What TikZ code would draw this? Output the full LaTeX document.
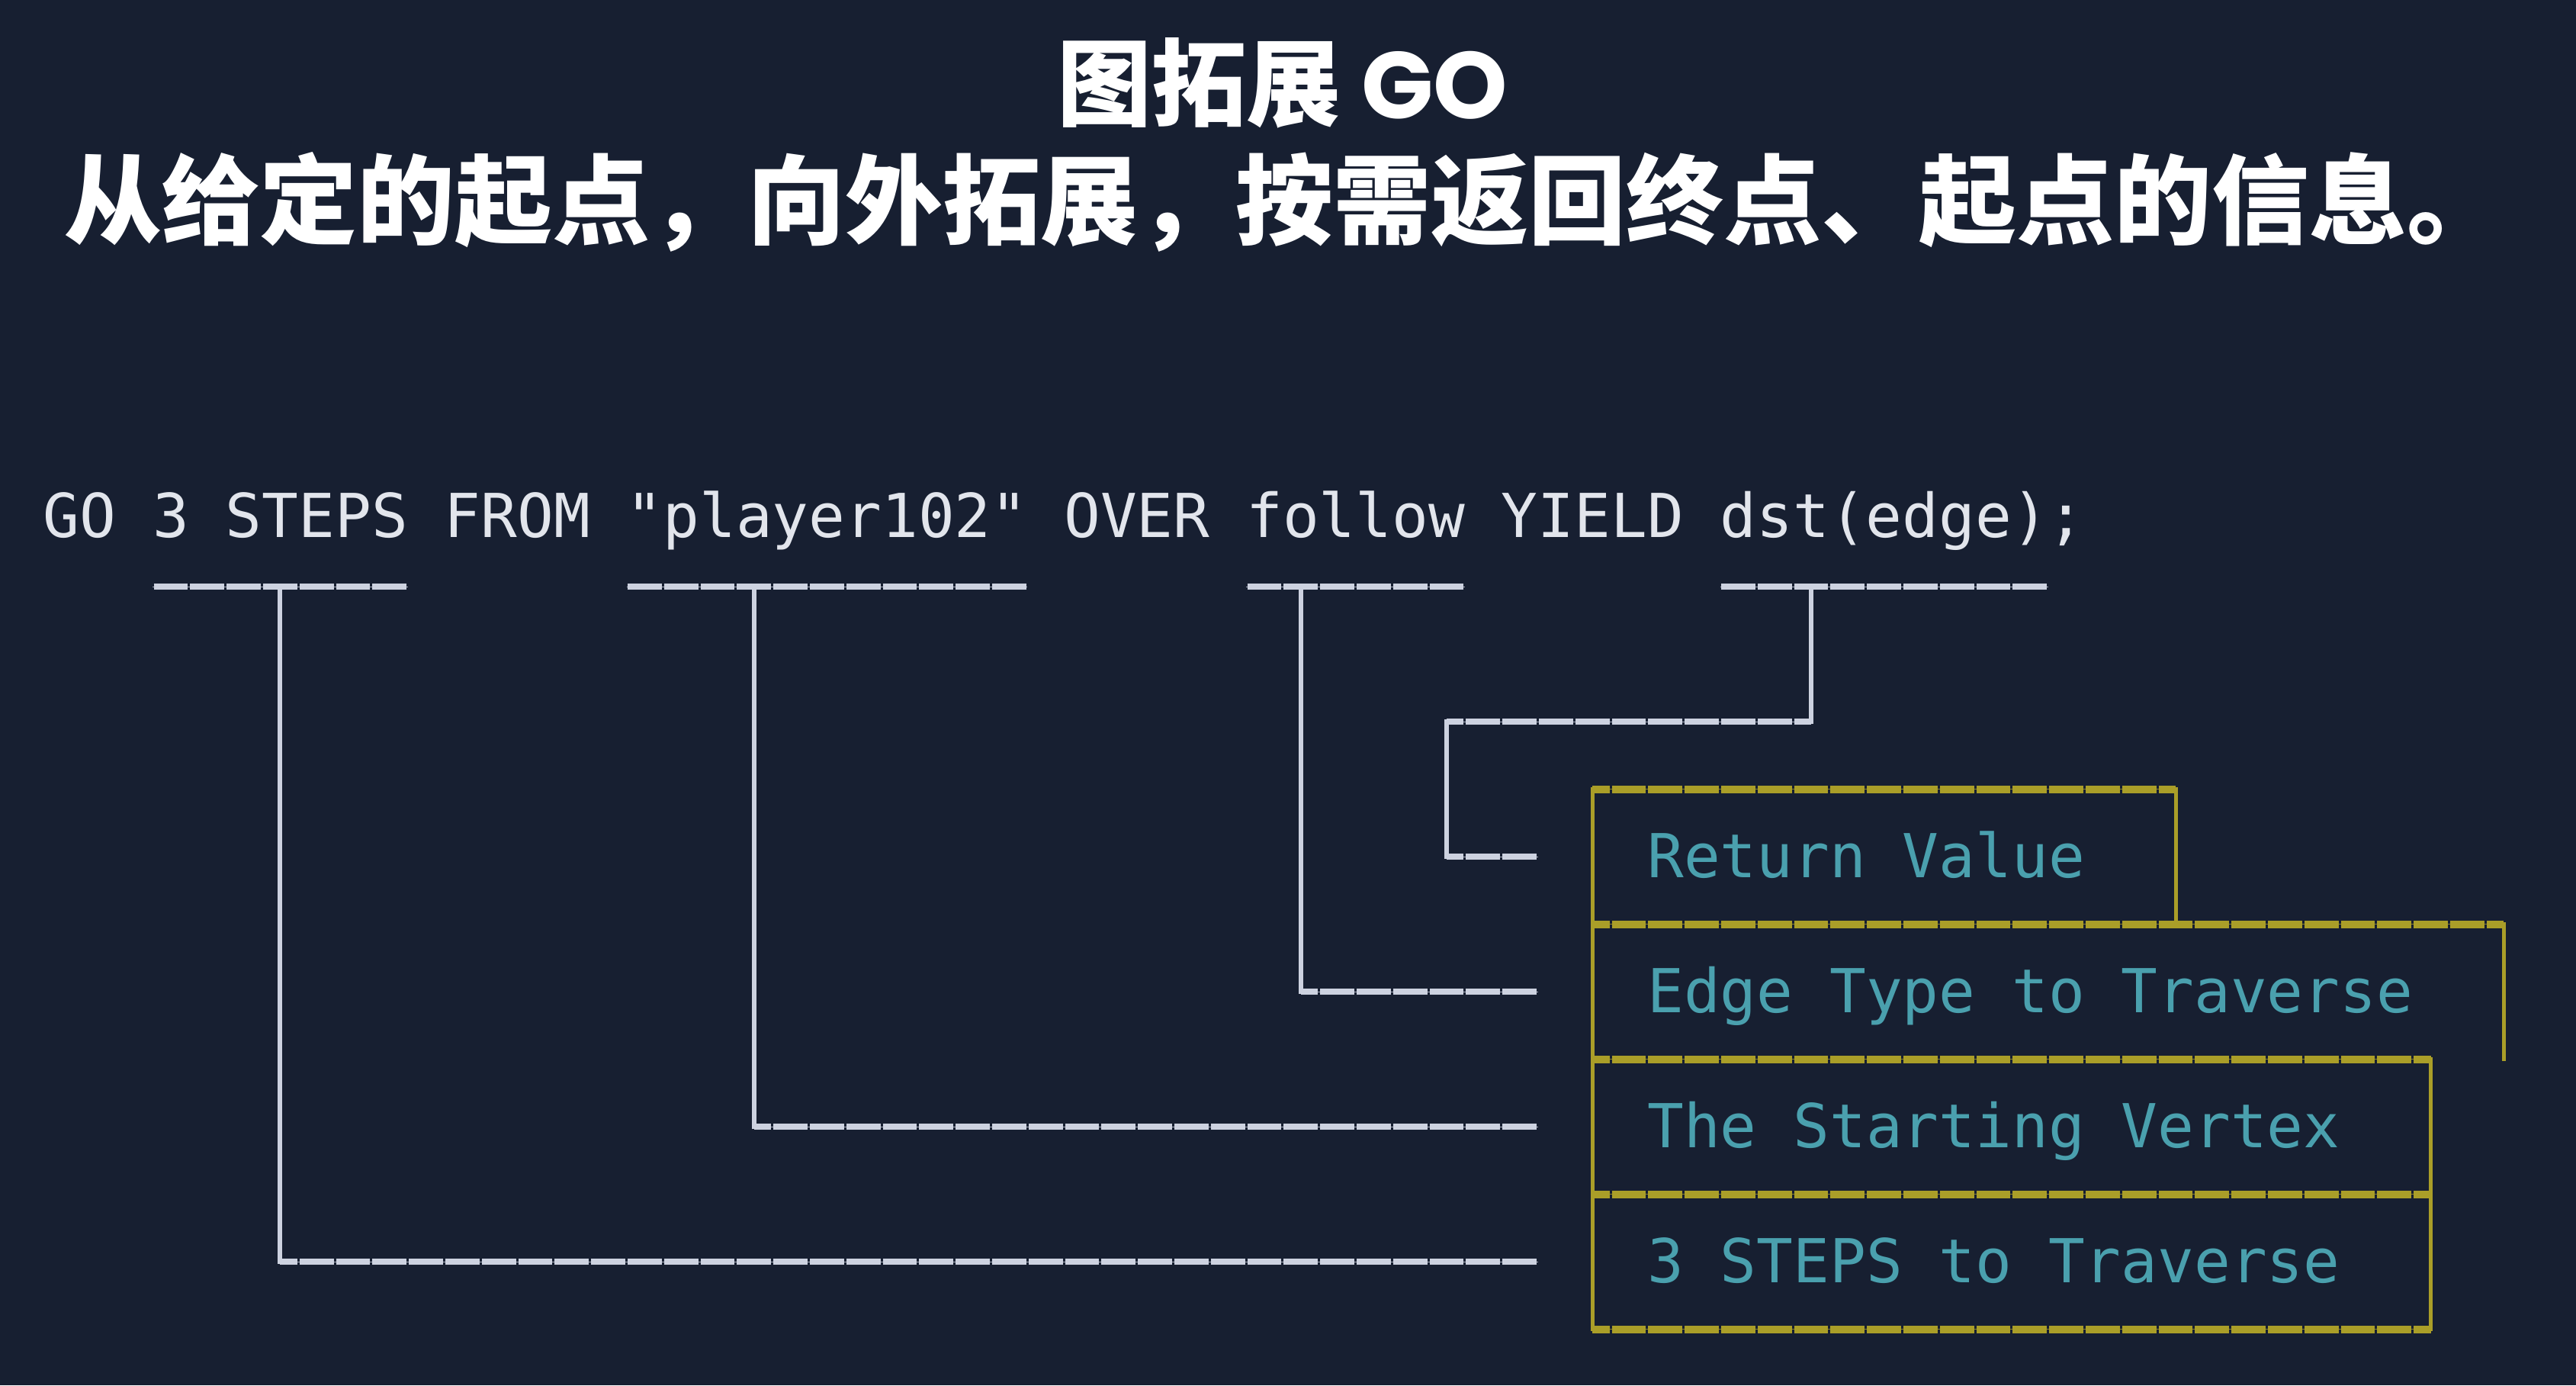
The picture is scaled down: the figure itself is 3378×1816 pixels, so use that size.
\documentclass[tikz,border=0pt]{standalone}
\usepackage{fontspec}
\newfontfamily\cjkfont{Noto Sans CJK SC}
\newfontfamily\popfont{Poppins}
\newfontfamily\codefont{DejaVu Sans Mono}
\definecolor{bg}{RGB}{23,31,49}
\definecolor{codewhite}{RGB}{226,229,236}
\definecolor{linewhite}{RGB}{205,210,224}
\definecolor{boxyellow}{RGB}{170,158,40}
\definecolor{labelteal}{RGB}{74,160,174}
\begin{document}
\begin{tikzpicture}[x=1pt,y=-1pt,
  titletext/.style={inner sep=0pt, anchor=base, text=white},
  code/.style={inner sep=0pt, anchor=base west, text=codewhite,
    font=\codefont\fontsize{79.4}{88.5}\selectfont},
  cell/.style={inner ysep=0pt, inner xsep=72pt, outer sep=0pt,
    minimum height=177pt, text height=54pt, text depth=0pt, text=labelteal,
    font=\codefont\fontsize{79.4}{88.5}\selectfont},
  vl/.style={draw=linewhite, line width=6pt, line cap=rect},
  hl/.style={draw=linewhite, line width=8pt, dash pattern=on 44.8pt off 3pt,
    dash phase=#1, preaction={draw=linewhite!80!bg, solid}},
  yv/.style={draw=boxyellow, line width=5pt, line cap=rect},
  yh/.style={draw=boxyellow, line width=10pt, dash pattern=on 44.8pt off 3pt,
    dash phase=22.4pt, preaction={draw=boxyellow!80!bg, solid}}
]
\fill[bg] (0,0) rectangle (3378,1816);
\useasboundingbox (0,0) rectangle (3378,1816);

% titles
\node[titletext, font=\fontsize{124}{150}\selectfont] (title) at (1682,155)
  {{\cjkfont\bfseries 图拓展}{\popfont\bfseries\ GO}};
\node[titletext, font=\cjkfont\bfseries\fontsize{128}{150}\selectfont] (subtitle) at (1684,310)
  {从给定的起点，向外拓展，按需返回终点、起点的信息。};

% code line
\node[code] (query) at (56.7,704) {GO 3 STEPS FROM "player102" OVER follow YIELD dst(edge);};

% underline coordinates
\coordinate (u1a) at (200.1,769);  \coordinate (u1b) at (534.7,769);
\coordinate (u2a) at (821.5,769);  \coordinate (u2b) at (1347.3,769);
\coordinate (u3a) at (1634.1,769); \coordinate (u3b) at (1920.9,769);
\coordinate (u4a) at (2255.5,769); \coordinate (u4b) at (2685.7,769);

\coordinate (t1) at (367.4,769);  \coordinate (c1) at (367.4,1654);  \coordinate (e1) at (2016.5,1654);
\coordinate (t2) at (988.8,769);  \coordinate (c2) at (988.8,1477);  \coordinate (e2) at (2016.5,1477);
\coordinate (t3) at (1705.8,769); \coordinate (c3) at (1705.8,1300); \coordinate (e3) at (2016.5,1300);
\coordinate (t4) at (2375,769);   \coordinate (c4a) at (2375,946);   \coordinate (c4b) at (1897,946);
\coordinate (c4c) at (1897,1123); \coordinate (e4) at (2016.5,1123);

% boxes
\node[cell] (rv) at (2470.7,1123) {\makebox[621pt][l]{Return Value}};
\node[cell] (et) at (2685.7,1300) {\makebox[1051pt][l]{Edge Type to Traverse}};
\node[cell] (sv) at (2637.9,1477) {\makebox[955.4pt][l]{The Starting Vertex}};
\node[cell] (st) at (2637.9,1654) {\makebox[955.4pt][l]{3 STEPS to Traverse}};

% box borders
\draw[yv] (rv.north west) -- (st.south west);
\draw[yv] (rv.north east) -- (rv.south east);
\draw[yv] (et.north east) -- (et.south east);
\draw[yv] (sv.north east) -- (st.south east);
\draw[yh] (rv.north west) -- (rv.north east);
\draw[yh] (et.north west) -- (et.north east);
\draw[yh] (sv.north west) -- (sv.north east);
\draw[yh] (st.north west) -- (st.north east);
\draw[yh] (st.south west) -- (st.south east);

% connectors
\draw[vl] (t1) -- (c1);
\draw[vl] (t2) -- (c2);
\draw[vl] (t3) -- (c3);
\draw[vl] (t4) -- (c4a);
\draw[vl] (c4b) -- (c4c);
\draw[hl=22.4pt] (c1) -- (e1);
\draw[hl=22.4pt] (c2) -- (e2);
\draw[hl=22.4pt] (c3) -- (e3);
\draw[hl=22.4pt] (c4a) -- (c4b);
\draw[hl=22.4pt] (c4c) -- (e4);

% underlines
\draw[hl=46.3pt] (u1a) -- (u1b);
\draw[hl=46.3pt] (u2a) -- (u2b);
\draw[hl=46.3pt] (u3a) -- (u3b);
\draw[hl=46.3pt] (u4a) -- (u4b);
\end{tikzpicture}
\end{document}
